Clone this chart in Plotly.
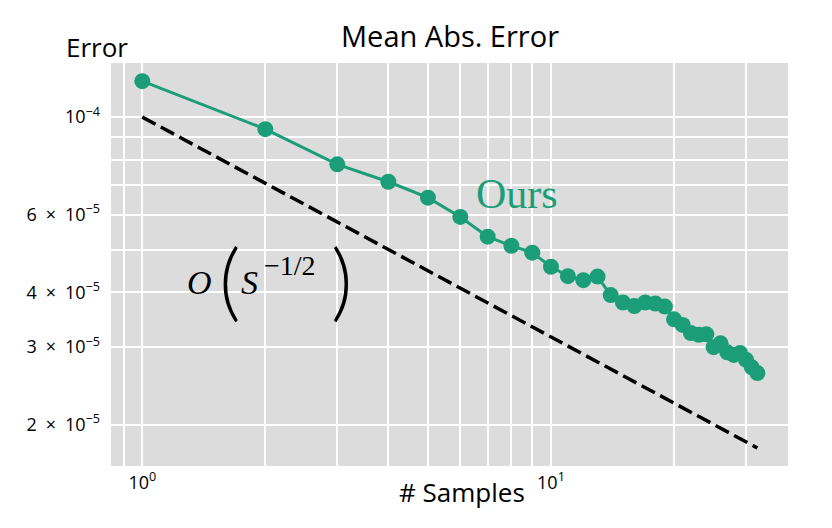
import plotly.graph_objects as go

# number of samples and mean absolute error
samples = list(range(1, 33))
mae = [1.207e-4, 9.39e-5, 7.81e-5, 7.13e-5, 6.56e-5, 5.93e-5, 5.35e-5, 5.10e-5,
       4.92e-5, 4.57e-5, 4.35e-5, 4.26e-5, 4.34e-5, 3.94e-5, 3.79e-5, 3.72e-5,
       3.79e-5, 3.77e-5, 3.71e-5, 3.47e-5, 3.37e-5, 3.23e-5, 3.20e-5, 3.21e-5,
       3.00e-5, 3.06e-5, 2.92e-5, 2.88e-5, 2.91e-5, 2.81e-5, 2.70e-5, 2.62e-5]

# reference rate O(S^-1/2): straight line on log-log, endpoints
ref_x = [1, 32]
ref_y = [1.0e-4, 1.77e-5]

x_major = [1, 10]
x_major_text = ["10<sup>0</sup>", "10<sup>1</sup>"]
x_minor = [0.9, 2, 3, 4, 5, 6, 7, 8, 9, 20, 30]

y_major = [1e-4, 6e-5, 4e-5, 3e-5, 2e-5]
y_major_text = ["10<sup>−4</sup>", "6\u2002×\u200210<sup>−5</sup>", "4\u2002×\u200210<sup>−5</sup>",
                "3\u2002×\u200210<sup>−5</sup>", "2\u2002×\u200210<sup>−5</sup>"]
y_minor = [5e-5, 7e-5, 8e-5, 9e-5]

GREEN = "#1b9e77"
SANS = "Open Sans"
SERIF = "Liberation Serif"

# plot area in pixels (for placing the text labels)
L, R, T, B = 111, 788, 63, 466


def px(x, y):
    return (x - L) / (R - L), (B - y) / (B - T)


fig = go.Figure()

fig.add_trace(go.Scatter(
    x=ref_x, y=ref_y, mode="lines",
    line=dict(color="black", width=3.5, dash="15px,6px"),
    showlegend=False, hoverinfo="skip",
))

fig.add_trace(go.Scatter(
    x=samples, y=mae, mode="lines+markers",
    line=dict(color=GREEN, width=3),
    marker=dict(color=GREEN, size=16),
    showlegend=False,
))

grid = dict(showgrid=True, gridcolor="white", gridwidth=2)

fig.update_xaxes(
    type="log", range=[-0.0766, 1.580], automargin=False,
    tickmode="array", tickvals=x_major, ticktext=x_major_text,
    ticks="", zeroline=False, showline=False, ticklabelstandoff=4,
    tickfont=dict(family=SANS, size=18, color="black"),
    minor=dict(tickmode="array", tickvals=x_minor, ticks="", **grid),
    **grid,
)
fig.update_yaxes(
    type="log", range=[-4.793, -3.877], automargin=False,
    tickmode="array", tickvals=y_major, ticktext=y_major_text,
    ticks="", zeroline=False, showline=False, ticklabelstandoff=10,
    tickfont=dict(family=SANS, size=18, color="black"),
    minor=dict(tickmode="array", tickvals=y_minor, ticks="", **grid),
    **grid,
)

notes = [
    dict(text="Error", pos=(97, 47), xanchor="center",
         font=dict(family=SANS, size=26, color="black")),
    dict(text="# Samples", pos=(462, 492), xanchor="center",
         font=dict(family=SANS, size=26, color="black")),
    dict(text="Ours", pos=(517, 194), xanchor="center",
         font=dict(family=SERIF, size=42, color=GREEN)),
    dict(text="<i>O</i>", pos=(199, 282), xanchor="center",
         font=dict(family=SERIF, size=34, color="black")),
    dict(text="(", pos=(230, 278), xanchor="center",
         font=dict(family="Lato", size=84, color="black", weight=300)),
    dict(text="<i>S</i>", pos=(249, 282), xanchor="center",
         font=dict(family=SERIF, size=34, color="black")),
    dict(text="−1/2", pos=(290, 265), xanchor="center",
         font=dict(family=SERIF, size=28, color="black")),
    dict(text=")", pos=(342, 278), xanchor="center",
         font=dict(family="Lato", size=84, color="black", weight=300)),
]
for n in notes:
    x, y = px(*n.pop("pos"))
    fig.add_annotation(xref="paper", yref="paper", x=x, y=y, yanchor="middle",
                       showarrow=False, **n)

fig.update_layout(
    width=832, height=528,
    margin=dict(l=L, r=832 - R, t=T, b=528 - B),
    paper_bgcolor="white", plot_bgcolor="#dcdcdc",
    title=dict(text="Mean Abs. Error", x=450 / 832, xanchor="center",
               y=1 - 37 / 528, yanchor="middle",
               font=dict(family=SANS, size=29, color="black")),
)

fig.write_html("out.html", config={"displayModeBar": False},
               post_script="document.body.style.margin='0';")
